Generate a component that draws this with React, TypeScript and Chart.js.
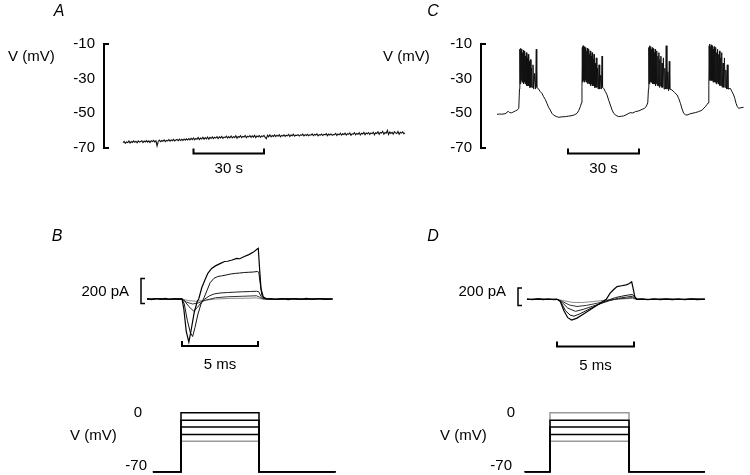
import { useEffect, useRef } from "react";
import { Chart, registerables } from "chart.js";

Chart.register(...registerables);

const W = 750;
const H = 475;

// ---------- Panel A: membrane potential (mV) sampled every 0.5 s ----------
const aTime0 = 0;
const aStep = 0.5;
const aVolt = [
  -66.9, -66.2, -67.3, -66.5, -66.9, -66.0, -67.1, -66.3, -66.8, -65.9,
  -66.7, -66.1, -67.0, -65.9, -66.6, -66.2, -65.8, -66.9, -66.0, -66.5,
  -65.7, -66.6, -65.9, -66.8, -65.8, -66.3, -65.6, -66.5, -65.9, -68.8,
  -66.2, -65.5, -66.4, -65.7, -66.1, -65.3, -66.3, -65.6, -65.9, -65.2,
  -66.0, -65.3, -65.8, -65.0, -65.9, -65.4, -65.1, -65.8, -64.9, -65.7,
  -65.0, -65.6, -64.8, -65.5, -64.7, -65.4, -64.6, -65.3, -64.4, -65.2,
  -64.2, -65.3, -64.5, -64.9, -63.9, -65.1, -64.3, -64.8, -63.8, -64.9,
  -64.0, -64.7, -63.7, -64.9, -63.9, -64.5, -63.6, -64.6, -63.8, -64.3,
  -63.5, -64.5, -63.6, -64.2, -63.3, -64.4, -63.7, -64.0, -63.2, -64.3,
  -63.4, -64.1, -63.1, -64.2, -63.5, -63.9, -63.0, -64.3, -63.4, -63.8,
  -62.9, -64.0, -63.3, -63.7, -62.8, -64.1, -63.2, -63.6, -62.9, -63.9,
  -63.0, -63.7, -62.7, -64.0, -63.1, -63.5, -62.8, -63.8, -63.0, -63.4,
  -62.7, -63.9, -64.6, -62.6, -63.5, -62.4, -63.6, -62.8, -63.3, -62.5,
  -63.4, -62.6, -63.2, -62.3, -63.5, -62.7, -63.1, -62.4, -63.3, -62.6,
  -63.0, -62.2, -63.4, -62.5, -62.9, -62.1, -63.2, -62.6, -62.8, -62.3,
  -63.1, -62.4, -62.7, -62.0, -63.0, -62.3, -62.8, -62.1, -62.9, -62.4,
  -62.6, -61.9, -62.9, -62.2, -62.5, -61.8, -63.0, -62.3, -62.6, -62.0,
  -62.8, -62.1, -62.4, -61.7, -62.9, -62.0, -62.5, -61.9, -62.7, -62.2,
  -62.3, -61.6, -62.8, -61.9, -62.4, -61.5, -62.6, -61.8, -62.2, -61.4,
  -62.5, -61.7, -62.1, -61.3, -62.6, -61.8, -62.0, -61.2, -62.4, -61.6,
  -62.1, -61.2, -62.5, -61.5, -61.9, -61.0, -62.3, -61.4, -61.8, -61.1,
  -62.2, -61.3, -61.7, -60.9, -62.4, -61.2, -61.6, -60.7, -62.1, -61.0,
  -61.4, -60.4, -62.0, -61.1, -61.5, -59.9, -62.2, -60.8, -61.6, -61.0,
  -62.0, -60.6, -61.3, -61.7, -60.5, -62.1, -60.9, -61.4, -60.7, -61.8,
  -61.3,
];

// ---------- Panel C: bursting (time s, mV) ----------
const cInter1 = [
  [0, -50.6], [1, -50.4], [2, -50.5], [3, -50.3], [3.8, -50.1], [4.3, -49.2], [4.8, -48.9],
  [5.3, -49.5], [6.2, -49.7], [7, -49.1], [7.8, -48.6], [8.5, -48.1], [9.2, -47.2],
];
const cBurst1 = [
  [9.5, -36], [9.65, -13], [9.8, -33], [9.95, -12.5], [10.1, -32], [10.25, -14], [10.4, -31],
  [10.55, -13], [10.7, -32], [10.85, -15], [11.0, -32], [11.15, -13.5], [11.3, -33], [11.45, -16],
  [11.6, -32], [11.75, -14], [11.9, -33], [12.05, -17], [12.2, -33], [12.4, -15], [12.6, -34],
  [12.8, -18], [13.0, -34], [13.2, -16], [13.4, -34], [13.6, -20], [13.85, -35], [14.1, -19],
  [14.35, -35], [14.6, -24], [14.9, -35], [15.2, -22], [15.5, -36], [15.9, -27], [16.3, -36],
  [16.6, -13], [16.8, -35],
];
const cInter2 = [
  [17.3, -35.5], [18.3, -37.5], [19.0, -38.5], [19.7, -40.4], [20.4, -42], [21.1, -44.2],
  [21.8, -46.5], [22.5, -48.1], [23.2, -50], [23.9, -51], [25, -51.8], [26.1, -52.3], [27.5, -52],
  [28.9, -51.9], [30.3, -51.6], [31.7, -51.3], [32.8, -50.8], [33.8, -50], [34.5, -48.5],
  [35.2, -46.2], [35.7, -44],
];
const cBurst2 = [
  [35.9, -35], [36.05, -12], [36.2, -32], [36.35, -11], [36.5, -31], [36.65, -12.5], [36.8, -31],
  [36.95, -11.5], [37.1, -32], [37.25, -13], [37.4, -31], [37.55, -12], [37.7, -32], [37.85, -14],
  [38.0, -32], [38.15, -12.5], [38.3, -33], [38.45, -15], [38.6, -32], [38.75, -13], [38.9, -33],
  [39.05, -16], [39.2, -33], [39.4, -14], [39.6, -34], [39.8, -17], [40.0, -33], [40.2, -15],
  [40.4, -34], [40.6, -19], [40.8, -34], [41.0, -16], [41.2, -35], [41.45, -21], [41.7, -35],
  [41.95, -18], [42.2, -35], [42.5, -24], [42.8, -36], [43.1, -22], [43.4, -36], [43.8, -28],
  [44.1, -36], [44.4, -17], [44.6, -35],
];
const cInter3 = [
  [45.1, -35.6], [45.8, -37.5], [46.5, -39.4], [47.2, -42.5], [47.9, -45.2], [48.6, -48],
  [49.3, -50], [50.3, -51.2], [51.4, -51.9], [52.5, -51.7], [53.5, -51.5], [54.5, -50.9],
  [55.4, -50.2], [56.3, -49.6], [57.4, -49.8], [58.5, -49], [59.9, -48.6], [61.3, -47.7],
  [62.2, -47.2], [63, -46.2], [63.7, -44],
];
const cBurst3 = [
  [64.0, -36], [64.15, -12], [64.3, -33], [64.45, -11], [64.6, -32], [64.75, -12.5], [64.9, -32],
  [65.05, -11.5], [65.2, -32], [65.35, -13], [65.5, -32], [65.65, -12], [65.8, -33], [65.95, -14],
  [66.1, -33], [66.25, -12.5], [66.4, -33], [66.55, -15], [66.7, -33], [66.85, -13], [67.0, -34],
  [67.2, -16], [67.4, -33], [67.6, -14], [67.8, -34], [68.0, -17], [68.2, -34], [68.4, -15],
  [68.6, -35], [68.8, -19], [69.0, -34], [69.25, -17], [69.5, -35], [69.75, -21], [70.0, -35],
  [70.3, -18], [70.6, -36], [70.9, -24], [71.2, -36], [71.5, -11], [71.8, -36], [72.2, -26],
  [72.5, -37], [72.8, -20], [73.0, -36],
];
const cInter4 = [
  [73.9, -36.5], [75.0, -38], [76.1, -39.4], [76.8, -41.5], [77.5, -44.2], [78.2, -47.5],
  [78.9, -50], [79.6, -50.8], [80.3, -51], [81.3, -50.4], [82.4, -50], [83.8, -49.6], [85.2, -49],
  [86.6, -48.2], [88, -46.2], [88.7, -45], [89.2, -44],
];
const cBurst4 = [
  [89.5, -34], [89.65, -11], [89.8, -31], [89.95, -10], [90.1, -31], [90.25, -11.5], [90.4, -30],
  [90.55, -10.5], [90.7, -31], [90.85, -12], [91.0, -31], [91.15, -11], [91.3, -32], [91.45, -13],
  [91.6, -31], [91.75, -11.5], [91.9, -32], [92.05, -14], [92.2, -32], [92.4, -12], [92.6, -33],
  [92.8, -15], [93.0, -32], [93.2, -13], [93.4, -33], [93.6, -16], [93.8, -33], [94.0, -14],
  [94.2, -34], [94.45, -18], [94.7, -34], [94.95, -15], [95.2, -35], [95.5, -21], [95.8, -35],
  [96.1, -18], [96.4, -35], [96.7, -25], [97.0, -36], [97.3, -22], [97.6, -36],
];
const cInter5 = [
  [98.6, -35.6], [99.3, -37.5], [100, -39.4], [100.5, -41.5], [101, -44.2], [101.5, -46],
  [102.1, -47.1], [103, -46.8], [104.2, -46.5],
];

// ---------- Panel B: currents (ms from step onset, pA) ----------
const bPreNoisy = [[-2.3, 3], [-2.0, -5], [-1.7, 4], [-1.4, -3], [-1.1, 5], [-0.8, -4], [-0.5, 3], [-0.2, -3]];
const bPostNoisy = [[5.8, 4], [6.2, -4], [6.6, 3], [7.0, -5], [7.4, 4], [7.8, -3], [8.2, 5], [8.6, -4], [9.0, 3], [9.4, -3], [9.9, 2]];
const bPreQuiet = [[-2.3, -2], [-1.6, 2], [-0.9, -2], [-0.3, 1]];
const bPostQuiet = [[6.0, -2], [7.0, 2], [8.0, -2], [9.0, 2], [9.9, -1]];
const bTrace1 = [
  [0, 0], [0.12, -80], [0.28, -260], [0.45, -345], [0.6, -250], [0.8, -110], [1.0, -20], [1.1, 0],
  [1.3, 90], [1.5, 150], [1.7, 205], [1.95, 245], [2.2, 265], [2.5, 283], [2.8, 300], [3.0, 302],
  [3.3, 312], [3.6, 325], [3.8, 322], [4.1, 340], [4.4, 355], [4.7, 375], [4.95, 400], [5.02, 405],
  [5.1, 250], [5.2, 80], [5.35, 15], [5.6, 0],
];
const bTrace2 = [
  [0, 0], [0.15, -40], [0.35, -170], [0.55, -270], [0.7, -300], [0.85, -230], [1.05, -120],
  [1.25, -40], [1.45, 10], [1.65, 70], [1.85, 130], [2.1, 165], [2.35, 180], [2.6, 185], [2.9, 192],
  [3.2, 200], [3.5, 205], [3.8, 208], [4.1, 212], [4.4, 214], [4.7, 216], [4.95, 220], [5.05, 215],
  [5.15, 120], [5.25, 30], [5.4, 5], [5.7, 0],
];
const bTrace3 = [
  [0, 0], [0.2, -20], [0.45, -60], [0.75, -95], [1.0, -70], [1.25, -30], [1.5, 0], [1.8, 25],
  [2.1, 40], [2.5, 48], [3.0, 52], [3.5, 55], [4.0, 58], [4.5, 60], [4.9, 62], [5.05, 58],
  [5.2, 20], [5.35, 3], [5.6, 0],
];
const bTrace4 = [
  [0, 0], [0.3, -25], [0.7, -40], [1.1, -30], [1.6, -8], [2.2, 10], [3.0, 18], [4.0, 22],
  [4.9, 26], [5.1, 15], [5.3, 2], [5.6, 0],
];
const bTrace5 = [
  [0, 0], [0.4, -12], [0.9, -18], [1.5, -10], [2.2, 0], [3.2, 5], [4.2, 6], [4.9, 9], [5.1, 3], [5.4, 0],
];

// ---------- Panel D: currents (ms, pA) ----------
const dPreNoisy = [[-1.95, 4], [-1.6, -5], [-1.25, 5], [-0.9, -4], [-0.55, 4], [-0.2, -3]];
const dPostNoisy = [[5.5, 5], [5.9, -4], [6.3, 4], [6.7, -5], [7.1, 3], [7.5, -4], [7.9, 5], [8.3, -3], [8.7, 4], [9.1, -4], [9.6, 2]];
const dPreQuiet = [[-1.95, -2], [-1.2, 2], [-0.5, -2]];
const dPostQuiet = [[6.0, -2], [7.0, 2], [8.0, -2], [9.0, 2], [9.6, 0]];
const dTrace1 = [
  [0, 0], [0.2, -20], [0.45, -130], [0.7, -210], [0.95, -237], [1.3, -215], [1.7, -170],
  [2.1, -125], [2.5, -80], [2.9, -35], [3.2, 0], [3.45, 70], [3.7, 115], [3.9, 145], [4.2, 155],
  [4.5, 165], [4.7, 180], [4.85, 200], [4.95, 120], [5.05, 30], [5.2, 0],
];
const dTrace2 = [
  [0, 0], [0.25, -30], [0.55, -130], [0.85, -180], [1.1, -193], [1.5, -165], [2.0, -120],
  [2.5, -75], [3.0, -35], [3.4, -5], [3.8, 20], [4.2, 35], [4.6, 48], [4.9, 55], [5.05, 25], [5.2, 0],
];
const dTrace3 = [
  [0, 0], [0.3, -30], [0.7, -100], [1.2, -138], [1.7, -115], [2.3, -80], [2.9, -45], [3.5, -10],
  [4.0, 12], [4.5, 25], [4.9, 35], [5.05, 15], [5.2, 0],
];
const dTrace4 = [
  [0, 0], [0.35, -25], [0.8, -65], [1.3, -82], [1.9, -70], [2.6, -45], [3.3, -15], [4.0, 5],
  [4.5, 12], [4.9, 20], [5.1, 5], [5.3, 0],
];
const dTrace5 = [
  [0, 0], [0.4, -15], [1.0, -35], [1.6, -37], [2.4, -25], [3.2, -8], [4.0, 3], [4.9, 10], [5.1, 2], [5.3, 0],
];

// ---------- Voltage protocols (mV) ----------
const holdingMv = -70;
const stepLevels = [0, -9, -17, -26, -34];
const stepColorsB = ["#000", "#000", "#000", "#000", "#9a9a9a"];
const stepColorsD = ["#9a9a9a", "#000", "#000", "#000", "#9a9a9a"];
const stepOnMs = 0;
const stepOffMs = 5;
const bStepSpan = [-1.8, 9.9];
const dStepSpan = [-1.6, 9.8];

// ---------- Labels ----------
const vTicks = [-10, -30, -50, -70];
const stepTicks = [0, -70];
const vAxisLabel = "V (mV)";
const slowBarLabel = "30 s";
const fastBarLabel = "5 ms";
const currentBarLabel = "200 pA";
const slowBar = [30, 60];
const fastBar = [0, 5];
const currentBarPa = 200;

// ---------- layout helpers ----------
function xRange(v0: number, p0: number, v1: number, p1: number) {
  const k = (p1 - p0) / (v1 - v0);
  const min = v0 - p0 / k;
  return { min, max: min + W / k };
}
function yRange(v0: number, p0: number, v1: number, p1: number) {
  const k = (p1 - p0) / (v0 - v1);
  const max = v0 + p0 / k;
  return { min: max - H / k, max };
}

const FONT = "'Liberation Sans', Arial, Helvetica, sans-serif";

const scaleDefs: Record<string, { min: number; max: number }> = {
  xA: xRange(0, 123, 120, 405),
  yA: yRange(-10, 44, -70, 148),
  xC: xRange(0, 497, 30, 568),
  yC: yRange(-10, 44, -70, 148),
  xB: xRange(0, 182, 5, 258),
  yB: yRange(0, 299, 200, 274),
  xBs: xRange(0, 181, 5, 259),
  yBs: yRange(0, 412.7, -70, 471.7),
  xD: xRange(0, 557, 5, 634),
  yD: yRange(0, 299.3, 200, 281.8),
  xDs: xRange(0, 550, 5, 629),
  yDs: yRange(0, 412.7, -70, 471.7),
};

const pts = (arr: number[][]) => arr.map(([x, y]) => ({ x, y }));

function line(data: any[], xAxisID: string, yAxisID: string, color = "#000", width = 1, order = 0) {
  return {
    data,
    xAxisID,
    yAxisID,
    borderColor: color,
    borderWidth: width,
    showLine: true,
    pointRadius: 0,
    fill: false,
    tension: 0,
    order,
  };
}

function stepData(level: number, span: number[]) {
  return pts([
    [span[0], holdingMv],
    [stepOnMs, holdingMv],
    [stepOnMs, level],
    [stepOffMs, level],
    [stepOffMs, holdingMv],
    [span[1], holdingMv],
  ]);
}

const overlay = {
  id: "overlay",
  afterDatasetsDraw(chart: any) {
    const ctx: CanvasRenderingContext2D = chart.ctx;
    const s = chart.scales;
    ctx.save();
    ctx.strokeStyle = "#000";
    ctx.fillStyle = "#000";
    ctx.lineWidth = 2;
    const font = `15px ${FONT}`;

    // Letters
    ctx.font = `italic 16px ${FONT}`;
    ctx.textAlign = "center";
    ctx.textBaseline = "middle";
    ctx.fillText("A", 59, 12);
    ctx.fillText("C", 433, 12);
    ctx.fillText("B", 57, 237);
    ctx.fillText("D", 433, 237);

    // Voltage axes for A and C
    const axes = [
      { xs: s.xA, ys: s.yA, axisPx: 104, labelX: 8 },
      { xs: s.xC, ys: s.yC, axisPx: 481, labelX: 383 },
    ];
    for (const a of axes) {
      const top = a.ys.getPixelForValue(vTicks[0]);
      const bot = a.ys.getPixelForValue(vTicks[vTicks.length - 1]);
      ctx.lineWidth = 2;
      ctx.beginPath();
      ctx.moveTo(a.axisPx + 5, top);
      ctx.lineTo(a.axisPx, top);
      ctx.lineTo(a.axisPx, bot);
      ctx.lineTo(a.axisPx + 5, bot);
      ctx.stroke();
      ctx.font = font;
      ctx.textAlign = "right";
      ctx.textBaseline = "middle";
      for (const v of vTicks) ctx.fillText(String(v), a.axisPx - 9, a.ys.getPixelForValue(v));
      ctx.textAlign = "left";
      ctx.fillText(vAxisLabel, a.labelX, 57);
      const x0 = a.xs.getPixelForValue(slowBar[0]);
      const x1 = a.xs.getPixelForValue(slowBar[1]);
      const y = bot + 5.5;
      ctx.beginPath();
      ctx.moveTo(x0, y - 5);
      ctx.lineTo(x0, y);
      ctx.lineTo(x1, y);
      ctx.lineTo(x1, y - 5);
      ctx.stroke();
      ctx.textAlign = "center";
      ctx.fillText(slowBarLabel, (x0 + x1) / 2, y + 15);
    }

    // Current panels B and D
    const cur = [
      { xs: s.xB, ys: s.yB, bracketPx: 141, barPa: -375, lo: -35 },
      { xs: s.xD, ys: s.yD, bracketPx: 518, barPa: -540, lo: -70 },
    ];
    for (const c of cur) {
      const yLo = c.ys.getPixelForValue(c.lo);
      const yHi = c.ys.getPixelForValue(c.lo + currentBarPa);
      ctx.lineWidth = 1.5;
      ctx.beginPath();
      ctx.moveTo(c.bracketPx + 4, yHi);
      ctx.lineTo(c.bracketPx, yHi);
      ctx.lineTo(c.bracketPx, yLo);
      ctx.lineTo(c.bracketPx + 4, yLo);
      ctx.stroke();
      ctx.font = font;
      ctx.textAlign = "right";
      ctx.textBaseline = "middle";
      ctx.fillText(currentBarLabel, c.bracketPx - 12, 292);
      const x0 = c.xs.getPixelForValue(fastBar[0]);
      const x1 = c.xs.getPixelForValue(fastBar[1]);
      const y = c.ys.getPixelForValue(c.barPa);
      ctx.lineWidth = 2;
      ctx.beginPath();
      ctx.moveTo(x0, y - 5);
      ctx.lineTo(x0, y);
      ctx.lineTo(x1, y);
      ctx.lineTo(x1, y - 5);
      ctx.stroke();
      ctx.textAlign = "center";
      ctx.fillText(fastBarLabel, (x0 + x1) / 2, y + 19);
    }

    // Step protocol labels
    const st = [
      { ys: s.yBs, zeroRight: 142, lowRight: 147, labelX: 70 },
      { ys: s.yDs, zeroRight: 515, lowRight: 512, labelX: 440 },
    ];
    for (const p of st) {
      ctx.font = font;
      ctx.textBaseline = "middle";
      ctx.textAlign = "right";
      ctx.fillText(String(stepTicks[0]), p.zeroRight, p.ys.getPixelForValue(stepTicks[0]));
      ctx.fillText(String(stepTicks[1]), p.lowRight, p.ys.getPixelForValue(stepTicks[1]) - 6);
      ctx.textAlign = "left";
      ctx.fillText(vAxisLabel, p.labelX, 436);
    }
    ctx.restore();
  },
};

export default function App() {
  const ref = useRef<HTMLCanvasElement>(null);
  useEffect(() => {
    if (!ref.current) return;
    const aData = aVolt.map((v, i) => ({ x: aTime0 + i * aStep, y: v }));
    const cData = pts([...cInter1, ...cBurst1, ...cInter2, ...cBurst2, ...cInter3, ...cBurst3, ...cInter4, ...cBurst4, ...cInter5]);
    const isGray = (c: string) => c !== "#000";

    const datasets: any[] = [
      line(aData, "xA", "yA", "#111", 1.1),
      line(cData, "xC", "yC", "#111", 1),
      line(pts([...bPreNoisy, ...bTrace1, ...bPostNoisy]), "xB", "yB", "#000", 1.2),
      line(pts([...bPreQuiet, ...bTrace2, ...bPostQuiet]), "xB", "yB", "#111", 1),
      line(pts([...bPreQuiet, ...bTrace3, ...bPostQuiet]), "xB", "yB", "#222", 1),
      line(pts([...bPreQuiet, ...bTrace4, ...bPostQuiet]), "xB", "yB", "#333", 1),
      line(pts([...bPreQuiet, ...bTrace5, ...bPostQuiet]), "xB", "yB", "#8a8a8a", 1, 1),
      line(pts([...dPreNoisy, ...dTrace1, ...dPostNoisy]), "xD", "yD", "#000", 1.2),
      line(pts([...dPreQuiet, ...dTrace2, ...dPostQuiet]), "xD", "yD", "#111", 1),
      line(pts([...dPreQuiet, ...dTrace3, ...dPostQuiet]), "xD", "yD", "#222", 1),
      line(pts([...dPreQuiet, ...dTrace4, ...dPostQuiet]), "xD", "yD", "#333", 1),
      line(pts([...dPreQuiet, ...dTrace5, ...dPostQuiet]), "xD", "yD", "#8a8a8a", 1, 1),
      ...stepLevels.map((lv, i) =>
        line(stepData(lv, bStepSpan), "xBs", "yBs", stepColorsB[i], 1.5, isGray(stepColorsB[i]) ? 1 : 0)
      ),
      ...stepLevels.map((lv, i) =>
        line(stepData(lv, dStepSpan), "xDs", "yDs", stepColorsD[i], 1.5, isGray(stepColorsD[i]) ? 1 : 0)
      ),
    ];

    const scales: any = {
      x: { type: "linear", display: false },
      y: { type: "linear", display: false },
    };
    for (const [id, r] of Object.entries(scaleDefs)) {
      scales[id] = {
        type: "linear",
        display: false,
        min: r.min,
        max: r.max,
        axis: id.startsWith("x") ? "x" : "y",
        position: id.startsWith("x") ? "bottom" : "left",
      };
    }

    const chart = new Chart(ref.current, {
      type: "scatter",
      data: { datasets },
      options: {
        animation: false,
        responsive: false,
        maintainAspectRatio: false,
        events: [],
        layout: { padding: 0 },
        plugins: { legend: { display: false }, tooltip: { enabled: false } },
        scales,
        elements: { line: { borderCapStyle: "butt", borderJoinStyle: "miter" } },
      },
      plugins: [overlay],
    } as any);
    return () => chart.destroy();
  }, []);

  return (
    <div style={{ position: "absolute", left: 0, top: 0, width: W, height: H, background: "#fff" }}>
      <canvas ref={ref} width={W} height={H} style={{ display: "block" }} />
    </div>
  );
}
